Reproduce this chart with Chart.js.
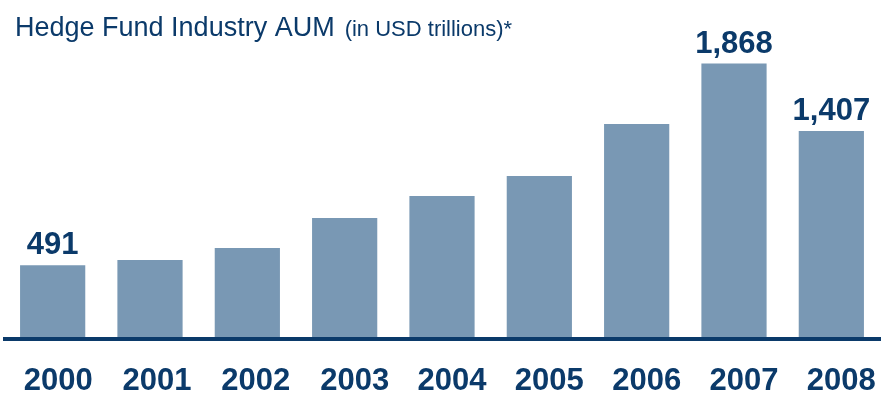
<!DOCTYPE html>
<html>
<head>
<meta charset="utf-8">
<script src="https://cdn.jsdelivr.net/npm/chart.js@4/dist/chart.umd.min.js"></script>
<style>
  html, body { margin: 0; padding: 0; background: #ffffff; }
  #wrap { width: 881px; height: 394px; }
</style>
</head>
<body>
<div id="wrap"><canvas id="aum" width="881" height="394"></canvas></div>
<script>
// Hedge fund industry assets under management, by year
const years = ['2000', '2001', '2002', '2003', '2004', '2005', '2006', '2007', '2008'];
const aum = [491, 526, 608, 813, 964, 1100, 1456, 1868, 1407];
// Years whose bars carry a value label
const labelledYears = ['2000', '2007', '2008'];

const NAVY = '#0b3a6a';
const BAR = '#7998b4';
const FONT = "'Liberation Sans', Arial, Helvetica, sans-serif";

const titlePlugin = {
  id: 'titleText',
  afterDraw(chart) {
    const ctx = chart.ctx;
    ctx.save();
    ctx.fillStyle = NAVY;
    ctx.textBaseline = 'alphabetic';
    ctx.textAlign = 'left';
    ctx.font = '27px ' + FONT;
    const main = 'Hedge Fund Industry AUM';
    ctx.fillText(main, 15, 36);
    const w = ctx.measureText(main).width;
    ctx.font = '22px ' + FONT;
    ctx.fillText('(in USD trillions)*', 15 + w + 10, 36);
    ctx.restore();
  }
};

const baselinePlugin = {
  id: 'baseline',
  afterDatasetsDraw(chart) {
    const ctx = chart.ctx;
    const y = chart.scales.y.getPixelForValue(0);
    ctx.save();
    ctx.strokeStyle = NAVY;
    ctx.lineWidth = 4;
    ctx.beginPath();
    ctx.moveTo(3, y + 2);
    ctx.lineTo(chart.width, y + 2);
    ctx.stroke();
    ctx.restore();
  }
};

// Year labels under the axis, set a little right of each bar centre
const yearLabelPlugin = {
  id: 'yearLabels',
  afterDraw(chart) {
    const ctx = chart.ctx;
    const x = chart.scales.x;
    ctx.save();
    ctx.fillStyle = NAVY;
    ctx.font = 'bold 31px ' + FONT;
    ctx.textAlign = 'center';
    ctx.textBaseline = 'alphabetic';
    x.ticks.forEach((t, i) => {
      const shift = 5.5 + Math.min(i, 3) * 1.5;
      ctx.fillText(x.getLabelForValue(t.value), x.getPixelForTick(i) + shift, 390);
    });
    ctx.restore();
  }
};

const valueLabelPlugin = {
  id: 'valueLabels',
  afterDatasetsDraw(chart) {
    const ctx = chart.ctx;
    const meta = chart.getDatasetMeta(0);
    ctx.save();
    ctx.fillStyle = NAVY;
    ctx.font = 'bold 31px ' + FONT;
    ctx.textAlign = 'center';
    ctx.textBaseline = 'alphabetic';
    meta.data.forEach((bar, i) => {
      if (!labelledYears.includes(years[i])) return;
      const v = chart.data.datasets[0].data[i];
      ctx.fillText(v.toLocaleString('en-US'), bar.x, bar.y - 11);
    });
    ctx.restore();
  }
};

new Chart(document.getElementById('aum'), {
  type: 'bar',
  data: {
    labels: years,
    datasets: [{
      data: aum,
      backgroundColor: BAR,
      borderWidth: 0,
      categoryPercentage: 1,
      barPercentage: 0.67
    }]
  },
  options: {
    responsive: false,
    animation: false,
    devicePixelRatio: 1,
    layout: { padding: { top: 15, left: 4, right: 1, bottom: 0 } },
    plugins: {
      legend: { display: false },
      tooltip: { enabled: false },
      title: { display: false }
    },
    scales: {
      x: {
        grid: { display: false },
        border: { display: false },
        ticks: { display: false },
        afterFit(scale) {
          // fixed band below the axis for the year labels, no side insets
          scale.height = 57;
          scale.paddingLeft = 0;
          scale.paddingRight = 0;
        }
      },
      y: {
        display: false,
        min: 0,
        max: 2200
      }
    }
  },
  plugins: [titlePlugin, baselinePlugin, valueLabelPlugin, yearLabelPlugin]
});
</script>
</body>
</html>
